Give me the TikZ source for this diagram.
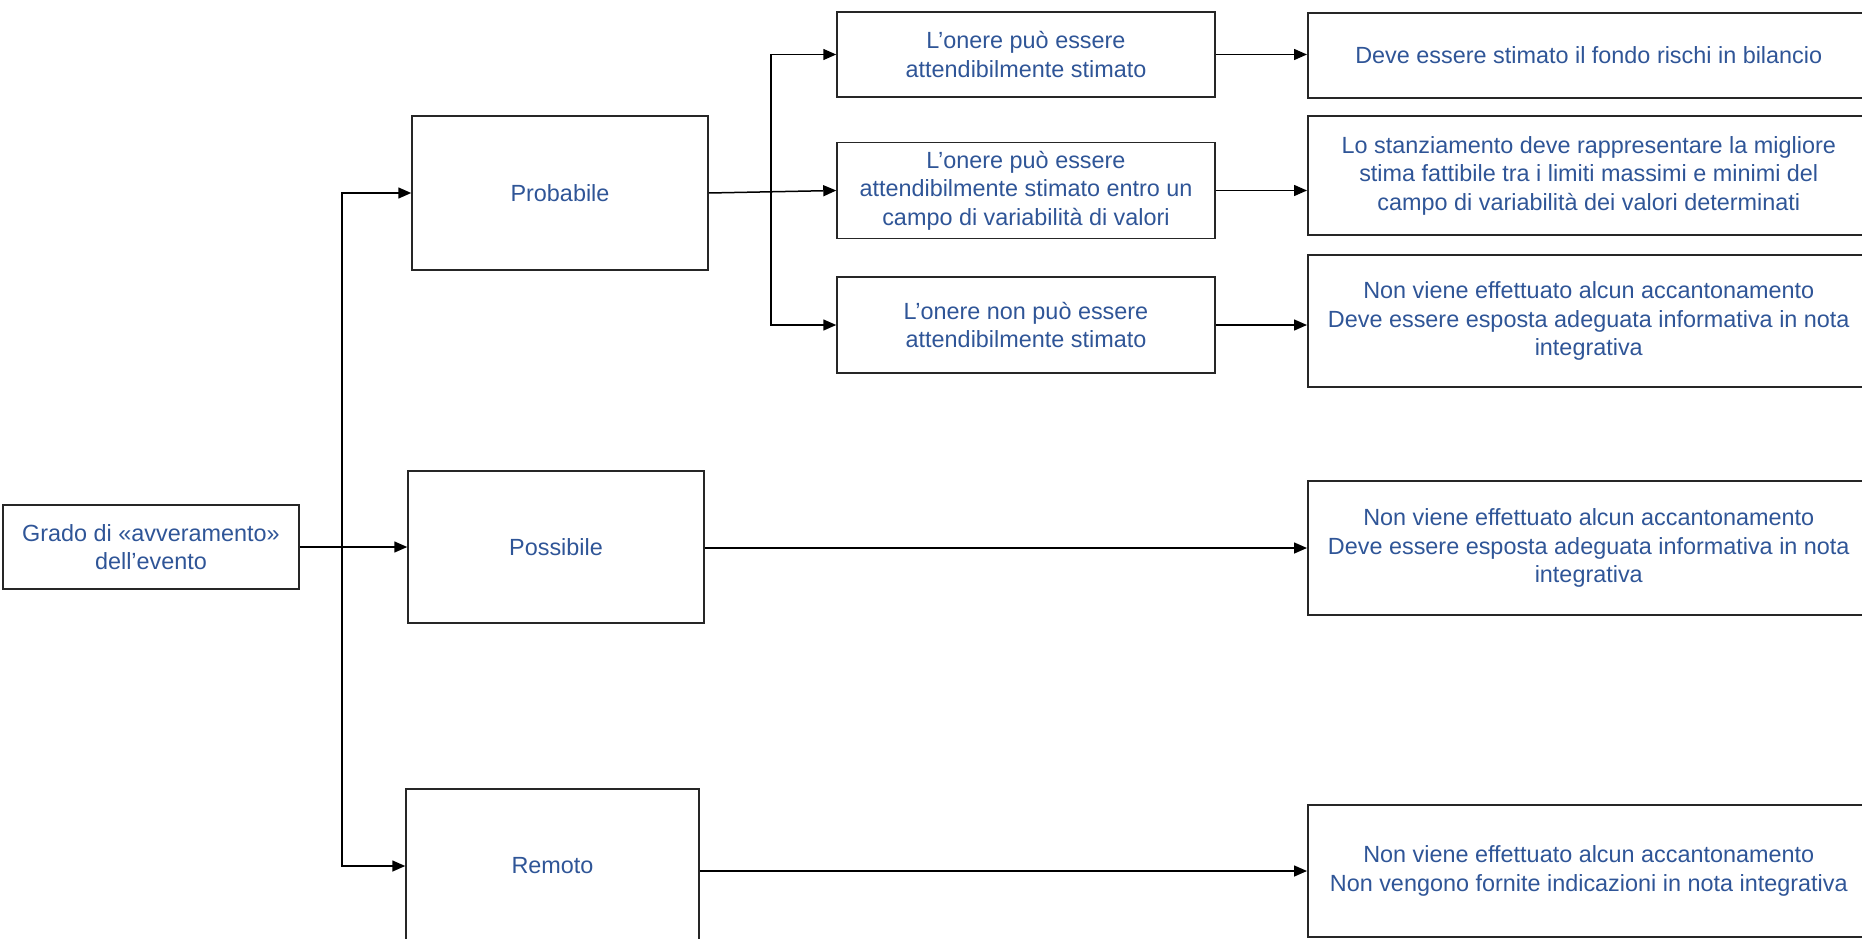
\documentclass[tikz,border=0pt]{standalone}
\usepackage{fontspec}
\setmainfont{Liberation Sans}
\usetikzlibrary{arrows.meta}
\definecolor{txtblue}{RGB}{47,85,151}
% text of the boxes cut by the right edge
\newcommand{\rtext}[1]{\hspace*{11pt}\parbox{540pt}{\centering #1}\hspace*{40pt}}

\begin{document}
\begin{tikzpicture}[x=1pt,y=-1pt,
    box/.style={draw=black!85, line width=1.5pt, text=txtblue, align=center,
      font=\fontsize{23.4pt}{28.5pt}\selectfont, inner sep=2pt},
    rbox/.style={draw=black!85, line width=1.5pt, text=txtblue, anchor=west,
      font=\fontsize{23.4pt}{28.5pt}\selectfont, inner xsep=0pt, inner ysep=2pt},
    arr/.style={line width=1.5pt, -{Triangle[length=13pt,width=11pt]}}]
    \useasboundingbox (0,0) rectangle (1862,939);

    \node[box, minimum width=296pt, minimum height=84pt] (grado) at (151,547) {Grado di «avveramento»\\dell’evento};

    \node[box, minimum width=296pt, minimum height=154pt] (prob) at (560,193) {Probabile};
    \node[box, minimum width=296pt, minimum height=152pt] (poss) at (556,547) {Possibile};
    \node[box, minimum width=293pt, minimum height=154pt] (rem) at (552.5,866) {Remoto};

    \node[box, minimum width=378pt, minimum height=85pt] (stima1) at (1026,54.5) {L’onere può essere\\attendibilmente stimato};
    \node[box, minimum width=378pt, minimum height=96pt] (stima2) at (1026,190.5) {L’onere può essere\\attendibilmente stimato entro un\\campo di variabilità di valori};
    \node[box, minimum width=378pt, minimum height=96pt] (stima3) at (1026,325) {L’onere non può essere\\attendibilmente stimato};

    \node[rbox, minimum height=85pt] (eff1) at (1307,55.5) {\rtext{Deve essere stimato il fondo rischi in bilancio}};
    \node[rbox, minimum height=119pt] (eff2) at (1307,175.5) {\rtext{Lo stanziamento deve rappresentare la migliore\\stima fattibile tra i limiti massimi e minimi del\\campo di variabilità dei valori determinati}};
    \node[rbox, minimum height=132pt] (eff3) at (1307,321) {\rtext{Non viene effettuato alcun accantonamento\\Deve essere esposta adeguata informativa in nota\\integrativa}};
    \node[rbox, minimum height=134pt] (eff4) at (1307,548) {\rtext{Non viene effettuato alcun accantonamento\\Deve essere esposta adeguata informativa in nota\\integrativa}};
    \node[rbox, minimum height=132pt] (eff5) at (1307,871) {\rtext{Non viene effettuato alcun accantonamento\\Non vengono fornite indicazioni in nota integrativa}};

    % tronco principale
    \coordinate (gfork) at (342,548);
    \draw[arr] (grado.east |- poss.west) -- (poss.west);
    \draw[arr] (gfork) |- (prob.west);
    \draw[arr] (gfork) |- (rem.west);

    % ramo probabile
    \coordinate (pfork) at (771,191);
    \draw[arr] (prob.east) -- (stima2.west);
    \draw[arr] (pfork) |- (stima1.west);
    \draw[arr] (pfork) |- (stima3.west);

    \draw[arr] (stima1.east) -- (eff1.west |- stima1.east);
    \draw[arr] (stima2.east) -- (eff2.west |- stima2.east);
    \draw[arr] (stima3.east) -- (eff3.west |- stima3.east);
    \draw[arr] (poss.east |- eff4.west) -- (eff4.west);
    \draw[arr] (rem.east |- eff5.west) -- (eff5.west);
  \end{tikzpicture}
\end{document}
